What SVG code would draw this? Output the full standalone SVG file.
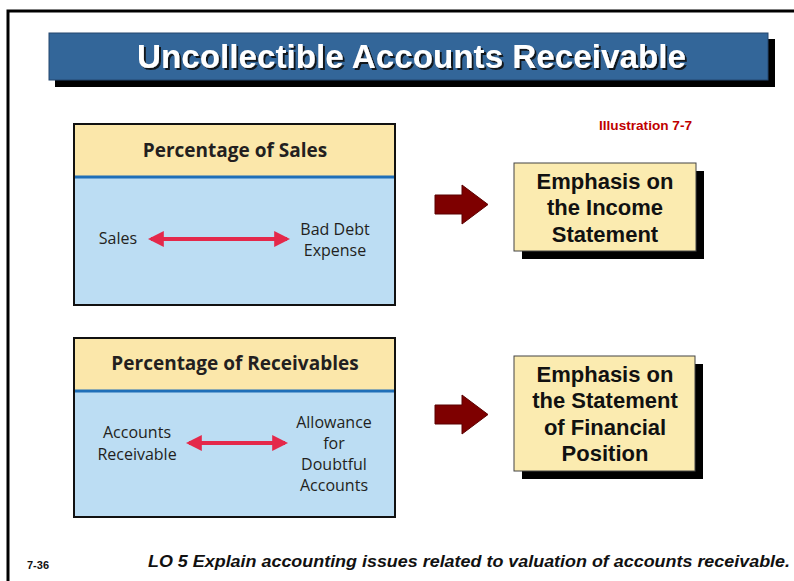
<svg xmlns="http://www.w3.org/2000/svg" width="794" height="581" viewBox="0 0 794 581">
<defs>
<style>
.frame{fill:none;stroke:#000;stroke-width:3}
.hdr{fill:#FBE7AA}
.body{fill:#BCDDF3}
.box{fill:none;stroke:#111;stroke-width:2}
.sep{stroke:#1F6FB8;stroke-width:3}
.ht{font-family:"Open Sans","Noto Sans",sans-serif;font-weight:bold;font-size:19px;fill:#231F20;text-anchor:middle}
.bt{font-family:"Open Sans","Noto Sans",sans-serif;font-size:16px;fill:#231F20;text-anchor:middle}
.em{fill:#FBEBB0;stroke:#444;stroke-width:1}
.sh{fill:#000}
.et{font-family:"Liberation Sans",Arial,sans-serif;font-weight:bold;font-size:22px;fill:#111;text-anchor:middle}
.red{stroke:#E4284A;stroke-width:4;fill:none}
.bigarrow{fill:#7E0000;stroke:#5A0000;stroke-width:1}
</style>
<filter id="ts" x="-5%" y="-30%" width="110%" height="160%">
<feDropShadow dx="2" dy="2" stdDeviation="0.6" flood-color="#111" flood-opacity="0.9"/>
</filter>
<marker id="rh" viewBox="0 0 10 10" refX="8" refY="5" markerWidth="4" markerHeight="4" orient="auto-start-reverse" markerUnits="strokeWidth">
<path d="M0,0 L10,5 L0,10 z" fill="#E4284A"/>
</marker>
</defs>
<rect width="794" height="581" fill="#fff"/>
<path class="frame" d="M8,581 V11 H794"/>

<g id="title">
<rect x="55" y="39" width="720" height="48" class="sh"/>
<rect x="49" y="33" width="719" height="47" fill="#336699" stroke="#24476e" stroke-width="1"/>
<text x="137" y="68" textLength="549" lengthAdjust="spacingAndGlyphs" font-family="Liberation Sans,Arial,sans-serif" font-weight="bold" font-size="34" fill="#fff" filter="url(#ts)">Uncollectible Accounts  Receivable</text>
</g>

<g id="illustration">
<text x="599" y="130" textLength="93" lengthAdjust="spacingAndGlyphs" font-family="Liberation Sans,Arial,sans-serif" font-weight="bold" font-size="12.5" fill="#C00000">Illustration 7-7</text>
</g>

<g id="pct-sales">
<rect x="74" y="124" width="321" height="52" class="hdr"/>
<rect x="74" y="176" width="321" height="129" class="body"/>
<line x1="74" y1="177" x2="395" y2="177" class="sep"/>
<rect x="74" y="124" width="321" height="181" class="box"/>
<text x="235" y="157" class="ht">Percentage of Sales</text>
<text x="118" y="244" class="bt">Sales</text>
<text x="335" y="235" class="bt">Bad Debt</text>
<text x="335" y="256" class="bt">Expense</text>
</g>

<g id="pct-receivables">
<rect x="74" y="338" width="321" height="52" class="hdr"/>
<rect x="74" y="390" width="321" height="127" class="body"/>
<line x1="74" y1="391" x2="395" y2="391" class="sep"/>
<rect x="74" y="338" width="321" height="179" class="box"/>
<text x="235" y="370" class="ht">Percentage of Receivables</text>
<text x="137" y="438" class="bt">Accounts</text>
<text x="137" y="460" class="bt">Receivable</text>
<text x="334" y="428" class="bt">Allowance</text>
<text x="334" y="449" class="bt">for</text>
<text x="334" y="470" class="bt">Doubtful</text>
<text x="334" y="491" class="bt">Accounts</text>
</g>

<g id="emphasis-income">
<rect x="522" y="171" width="182" height="88" class="sh"/>
<rect x="514" y="163" width="182" height="88" class="em"/>
<text x="605" y="189" class="et">Emphasis on</text>
<text x="605" y="215" class="et">the Income</text>
<text x="605" y="242" class="et">Statement</text>
</g>

<g id="emphasis-position">
<rect x="522" y="364" width="181" height="115" class="sh"/>
<rect x="514" y="356" width="181" height="115" class="em"/>
<text x="605" y="382" class="et">Emphasis on</text>
<text x="605" y="408" class="et">the Statement</text>
<text x="605" y="435" class="et">of Financial</text>
<text x="605" y="461" class="et">Position</text>
</g>

<g id="connectors">
<line x1="151" y1="239" x2="287" y2="239" class="red" marker-start="url(#rh)" marker-end="url(#rh)"/>
<line x1="189" y1="443" x2="285" y2="443" class="red" marker-start="url(#rh)" marker-end="url(#rh)"/>
<path class="bigarrow" d="M435,195 H462 V185 L488,204.5 L462,224 V214 H435 Z"/>
<path class="bigarrow" d="M435,405 H462 V395 L488,414.5 L462,434 V424 H435 Z"/>
</g>

<g id="footer">
<text x="27" y="569" font-family="Liberation Sans,Arial,sans-serif" font-weight="bold" font-size="11" fill="#111">7-36</text>
<text x="148" y="567" textLength="642" lengthAdjust="spacingAndGlyphs" font-family="Liberation Sans,Arial,sans-serif" font-weight="bold" font-style="italic" font-size="17" fill="#111">LO 5  Explain accounting issues related to valuation of accounts receivable.</text>
</g>
</svg>
